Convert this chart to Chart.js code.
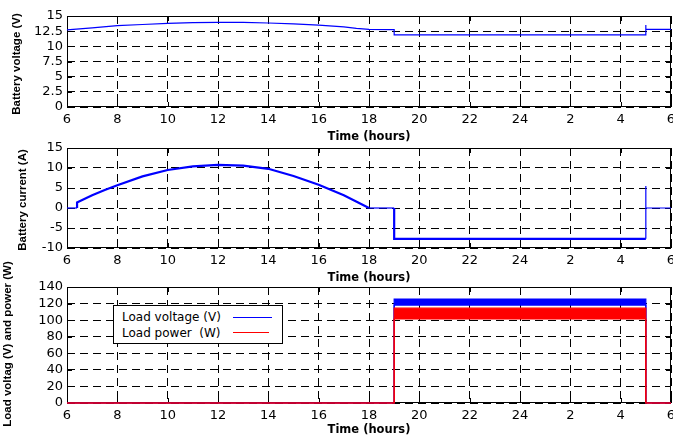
<!DOCTYPE html>
<html>
<head>
<meta charset="utf-8">
<script src="https://cdn.jsdelivr.net/npm/chart.js@4"></script>
<style>
  body { margin: 0; background: #fff; width: 673px; height: 436px; position: relative; overflow: hidden; }
  canvas { position: absolute; left: 0; }
  .ytitle {
    position: absolute; white-space: pre; color: #000;
    font: bold 11.5px 'Liberation Sans', Arial, sans-serif; line-height: 1;
    transform: translate(-50%, -50%) rotate(-90deg);
  }
  #legend {
    position: absolute; left: 113px; top: 305px; width: 168px; height: 37px;
    border: 1px solid #000; background: #fff;
    font: 12px 'DejaVu Sans', sans-serif; color: #000;
  }
  #legend .row { position: absolute; left: 8px; white-space: pre; }
  #legend .swatch { position: absolute; left: 119px; width: 39px; height: 0; border-top: 1px solid; }
</style>
</head>
<body>
<canvas id="c1" width="673" height="146" style="top:0"></canvas>
<canvas id="c2" width="673" height="146" style="top:140px"></canvas>
<canvas id="c3" width="673" height="156" style="top:280px"></canvas>
<div class="ytitle" style="left:17px;top:64px">Battery voltage (V)</div>
<div class="ytitle" style="left:23px;top:200px">Battery current (A)</div>
<div class="ytitle" style="left:8px;top:344px">Load voltag (V) and power (W)</div>
<div id="legend">
  <div class="row" style="top:4px">Load voltage (V)</div>
  <div class="swatch" style="top:11px;border-color:#0000ff"></div>
  <div class="row" style="top:20px">Load power  (W)</div>
  <div class="swatch" style="top:26px;border-color:#ff0000;width:36px"></div>
</div>
<script>
// ===================== Data =====================
// x axis runs 6h .. 30h (next morning 6h), labels wrap after 24
const xTickLabels = ['6', '8', '10', '12', '14', '16', '18', '20', '22', '24', '2', '4', '6'];

// battery voltage (V)
const voltHours  = [6, 7, 8, 9, 10, 11, 12, 13, 14, 15, 16, 17, 17.5, 18, 19, 19, 29, 29, 29, 30];
const voltValues = [12.7, 13.05, 13.4, 13.6, 13.8, 13.9, 13.95, 13.95, 13.85, 13.7, 13.5, 13.2, 12.95, 12.8, 12.75, 11.9, 11.9, 13.5, 12.8, 12.8];

// battery current (A)
const currHours  = [6, 6.4, 6.4, 6.5, 7, 7.5, 8, 9, 10, 11, 12, 13, 14, 15, 16, 17, 18, 19, 19, 29, 29, 29, 30];
const currValues = [0, 0, 1.4, 1.7, 3.2, 4.5, 5.7, 7.9, 9.5, 10.4, 10.8, 10.6, 9.8, 8.0, 5.8, 3.2, 0, 0, -7.7, -7.7, 5.5, 0, 0];

// load voltage / power: upper and lower edge of the ripple band
const loadHours    = [6, 19, 19, 29, 29, 30];
const loadVoltHigh = [0, 0, 125.5, 125.5, 0, 0];
const loadVoltLow  = [0, 0, 118.2, 118.2, 0, 0];
const loadPowHigh  = [0, 0, 114.5, 114.5, 0, 0];
const loadPowLow   = [0, 0, 101.5, 101.5, 0, 0];

// ===================== Helpers =====================
const TICK_FONT = { family: 'DejaVu Sans', size: 13 };
const GRID_DASH = [8, 5];

const pts = (xs, ys) => xs.map((x, i) => ({ x, y: ys[i] }));

// solid frame round the plot plus inward tick marks (Matlab style)
const framePlugin = {
  id: 'frame',
  beforeDatasetsDraw(chart) {
    const { ctx, chartArea: a, scales } = chart;
    ctx.save();
    ctx.strokeStyle = '#000';
    ctx.lineWidth = 1;
    ctx.setLineDash([]);
    ctx.strokeRect(a.left + 0.5, a.top + 0.5, a.right - a.left - 1, a.bottom - a.top - 1);
    ctx.beginPath();
    scales.x.ticks.forEach((t, i) => {
      const px = Math.round(scales.x.getPixelForTick(i)) + 0.5;
      ctx.moveTo(px, a.top); ctx.lineTo(px, a.top + 5);
      ctx.moveTo(px, a.bottom); ctx.lineTo(px, a.bottom - 5);
    });
    scales.y.ticks.forEach((t, i) => {
      const py = Math.round(scales.y.getPixelForTick(i)) + 0.5;
      ctx.moveTo(a.left, py); ctx.lineTo(a.left + 5, py);
      ctx.moveTo(a.right, py); ctx.lineTo(a.right - 5, py);
    });
    ctx.stroke();
    ctx.restore();
  },
};

function xScale(axisHeight, titlePad) {
  return {
    type: 'linear', min: 6, max: 30,
    ticks: { stepSize: 2, color: '#000', font: TICK_FONT, padding: 5, maxRotation: 0, autoSkip: false,
             callback: (v, i) => xTickLabels[i] },
    grid: { color: '#000', lineWidth: 1, drawTicks: false },
    border: { display: false, dash: GRID_DASH },
    title: { display: true, text: 'Time (hours)', color: '#000',
             font: { family: 'DejaVu Sans', size: 11.5, weight: 'bold', lineHeight: 1 },
             padding: { top: 0, bottom: titlePad } },
    afterFit: s => { s.height = axisHeight; s.paddingLeft = 0; s.paddingRight = 0; },
  };
}

function yScale(min, max, step) {
  return {
    min, max,
    ticks: { stepSize: step, color: '#000', font: TICK_FONT, padding: 4, autoSkip: false,
             callback: v => String(v) },
    grid: { color: '#000', lineWidth: 1, drawTicks: false },
    border: { display: false, dash: GRID_DASH },
    afterFit: s => { s.width = 67; s.paddingTop = 0; s.paddingBottom = 0; },
  };
}

function baseOptions(padTop, x, y) {
  return {
    responsive: false,
    animation: false,
    devicePixelRatio: 1,
    layout: { padding: { top: padTop, right: 2, bottom: 0, left: 0 } },
    plugins: { legend: { display: false }, tooltip: { enabled: false } },
    elements: { point: { radius: 0 }, line: { tension: 0 } },
    scales: { x, y },
  };
}

// ===================== Battery voltage =====================
new Chart(document.getElementById('c1'), {
  type: 'line',
  data: {
    datasets: [{
      data: pts(voltHours, voltValues),
      borderColor: '#0000ff', borderWidth: 1.2, clip: 3,
    }],
  },
  options: baseOptions(16, xScale(39, 3), yScale(0, 15, 2.5)),
  plugins: [framePlugin],
});

// ===================== Battery current =====================
new Chart(document.getElementById('c2'), {
  type: 'line',
  data: {
    datasets: [{
      data: pts(currHours, currValues),
      borderColor: '#0000ff', borderWidth: 2, clip: 3,
      segment: {
        borderWidth: c => (c.p0.parsed.x >= 29 || (c.p0.parsed.y === 0 && c.p1.parsed.y === 0)) ? 1.2 : 2.2,
      },
    }],
  },
  options: baseOptions(8, xScale(38, 2), yScale(-10, 15, 5)),
  plugins: [framePlugin],
});

// ===================== Load voltage and power =====================
new Chart(document.getElementById('c3'), {
  type: 'line',
  data: {
    datasets: [
      { data: pts(loadHours, loadVoltHigh), borderColor: '#0000ff', borderWidth: 1.2, clip: 3, order: 2 },
      { data: pts(loadHours, loadVoltLow), borderColor: '#0000ff', borderWidth: 1.2, clip: 3, order: 2,
        fill: '-1', backgroundColor: '#0000ff' },
      { data: pts(loadHours, loadPowHigh), borderColor: '#ff0000', borderWidth: 1.2, clip: 3, order: 1 },
      { data: pts(loadHours, loadPowLow), borderColor: '#ff0000', borderWidth: 1.2, clip: 3, order: 1,
        fill: '-1', backgroundColor: '#ff0000' },
    ],
  },
  options: baseOptions(7, xScale(33, 0), yScale(0, 140, 20)),
  plugins: [framePlugin],
});
</script>
</body>
</html>
